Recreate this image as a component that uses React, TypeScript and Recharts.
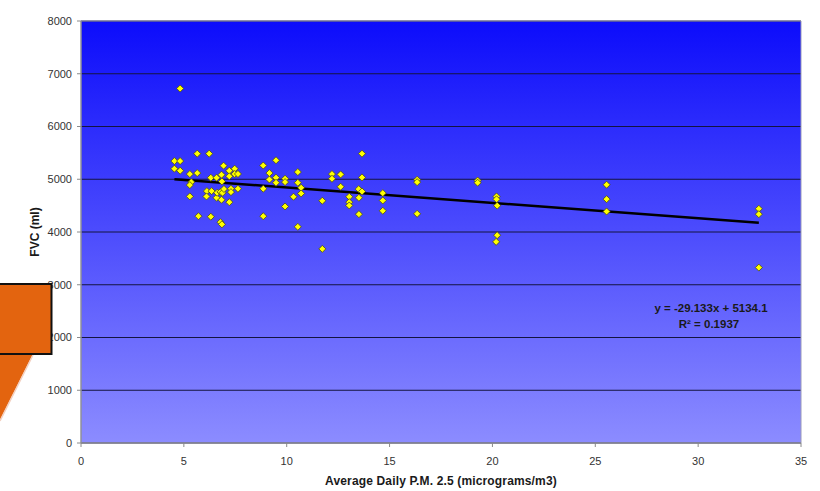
import React from "react";
import {
  ScatterChart,
  Scatter,
  XAxis,
  YAxis,
  CartesianGrid,
  ReferenceArea,
  Label,
} from "recharts";

// Average daily PM2.5 (micrograms/m3) and FVC (ml) for each subject
const pm25: number[] = [
  4.54, 4.54, 4.82, 4.82, 4.82, 5.29, 5.36, 5.29, 5.29, 5.65, 5.65, 5.71, 6.23,
  6.12, 6.1, 6.31, 6.31, 6.35, 6.59, 6.59, 6.62, 6.83, 6.85, 6.78, 6.88, 6.83,
  6.78, 6.85, 6.93, 6.95, 7.21, 7.21, 7.21, 7.29, 7.29, 7.47, 7.47, 7.63, 7.63,
  8.86, 9.48, 8.86, 8.86, 9.16, 9.16, 9.48, 9.48, 9.92, 9.92, 9.92, 10.54,
  10.54, 10.54, 10.7, 10.7, 10.33, 11.73, 11.73, 12.2, 12.2, 12.62, 12.62,
  13.66, 13.66, 13.5, 13.66, 13.51, 13.51, 13.04, 13.04, 13.04, 14.67, 14.67,
  14.67, 16.34, 16.34, 16.34, 19.28, 19.28, 20.2, 20.2, 20.23, 20.23, 20.18,
  25.55, 25.55, 25.55, 32.95, 32.95, 32.95,
];
const fvc: number[] = [
  5345, 5200, 5345, 5162, 6720, 5098, 4946, 4890, 4675, 5485, 5117, 4300, 5485,
  4775, 4674, 5029, 4290, 4775, 5029, 4649, 4744, 5086, 4959, 4760, 4744, 4611,
  4186, 4145, 5257, 4815, 5162, 5055, 4566, 4820, 4756, 5200, 5100, 5100, 4820,
  5260, 5360, 4820, 4300, 5117, 4995, 5030, 4934, 5010, 4946, 4484, 5136, 4934,
  4098, 4839, 4731, 4668, 4592, 3680, 5098, 5010, 5092, 4858, 5485, 5035, 4813,
  4769, 4649, 4338, 4668, 4566, 4503, 4737, 4598, 4402, 4990, 4945, 4345, 4975,
  4934, 4674, 4620, 4500, 3939, 3813, 4896, 4623, 4389, 4440, 4338, 3325,
];

// Linear trend line shown on the chart: y = -29.133x + 5134.1
const trendSlope = -29.133;
const trendIntercept = 5134.1;
const trendRange: number[] = [4.54, 32.95];

const xTicks: number[] = [0, 5, 10, 15, 20, 25, 30, 35];
const yTicks: number[] = [0, 1000, 2000, 3000, 4000, 5000, 6000, 7000, 8000];

const points = pm25.map((x, i) => ({ x, y: fvc[i] }));
const trend = trendRange.map((x) => ({ x, y: trendSlope * x + trendIntercept }));

const Diamond = (props: any) => {
  const { cx, cy } = props;
  if (cx == null || cy == null) return <g />;
  const r = 3.5;
  return (
    <polygon
      points={`${cx},${cy - r} ${cx + r},${cy} ${cx},${cy + r} ${cx - r},${cy}`}
      fill="#ffff00"
      stroke="#4a4a10"
      strokeWidth={0.8}
    />
  );
};

const NoShape = () => <g />;

const font = "'Liberation Sans', Arial, sans-serif";

export default function App() {
  return (
    <div style={{ position: "absolute", left: 0, top: 0, width: 820, height: 491, background: "#fff" }}>
      <ScatterChart
        width={820}
        height={491}
        margin={{ top: 21, right: 19, bottom: 0, left: 0 }}
        style={{ fontFamily: font }}
      >
        <defs>
          <linearGradient id="bgGrad" x1="0" y1="0" x2="0" y2="1">
            <stop offset="0%" stopColor="#0c0cfb" />
            <stop offset="100%" stopColor="#8c8cff" />
          </linearGradient>
        </defs>
        <CartesianGrid
          vertical={false}
          fill="url(#bgGrad)"
          fillOpacity={1}
          stroke="#141440"
          strokeWidth={1}
        />
        <ReferenceArea
          x1={0}
          x2={35}
          y1={0}
          y2={8000}
          fill="none"
          stroke="#9a9ab8"
          strokeWidth={1}
        />
        <XAxis
          type="number"
          dataKey="x"
          domain={[0, 35]}
          ticks={xTicks}
          height={48}
          tickSize={4}
          tickMargin={10}
          stroke="#8a8a8a"
          tick={{ fill: "#333", fontSize: 11, fontFamily: font }}
          allowDataOverflow
        >
          <Label
            value="Average Daily P.M. 2.5 (micrograms/m3)"
            position="insideBottom"
            offset={6}
            style={{ fontWeight: "bold", fontSize: 12, letterSpacing: 0.15, fill: "#1a1a1a", fontFamily: font }}
          />
        </XAxis>
        <YAxis
          type="number"
          dataKey="y"
          domain={[0, 8000]}
          ticks={yTicks}
          width={81}
          tickSize={4}
          tickMargin={5}
          stroke="#8a8a8a"
          tick={{ fill: "#333", fontSize: 11, fontFamily: font }}
          allowDataOverflow
        >
          <Label
            value="FVC (ml)"
            angle={-90}
            position="center"
            dx={-6}
            style={{ fontWeight: "bold", fontSize: 12, fill: "#1a1a1a", fontFamily: font, textAnchor: "middle" }}
          />
        </YAxis>
        <Scatter
          data={trend}
          line={{ stroke: "#000", strokeWidth: 2.5 }}
          shape={NoShape}
          isAnimationActive={false}
        />
        <Scatter data={points} shape={Diamond} isAnimationActive={false} />
      </ScatterChart>
      <svg
        width={820}
        height={491}
        style={{ position: "absolute", left: 0, top: 0, pointerEvents: "none" }}
      >
        <text
          x={711}
          y={312}
          textAnchor="middle"
          style={{ fontFamily: font, fontWeight: "bold", fontSize: 11.5, fill: "#1a1a1a" }}
        >
          y = -29.133x + 5134.1
        </text>
        <text
          x={709}
          y={328}
          textAnchor="middle"
          style={{ fontFamily: font, fontWeight: "bold", fontSize: 11.5, fill: "#1a1a1a" }}
        >
          R² = 0.1937
        </text>
        <polygon points="0,354 33,354 0,420" fill="#e3640f" />
        <line x1={33} y1={355} x2={0} y2={421} stroke="#f3d0c0" strokeWidth={1.5} />
        <rect x={-5} y={284} width={56.5} height={70} fill="#e3640f" stroke="#111" strokeWidth={2} />
      </svg>
    </div>
  );
}
